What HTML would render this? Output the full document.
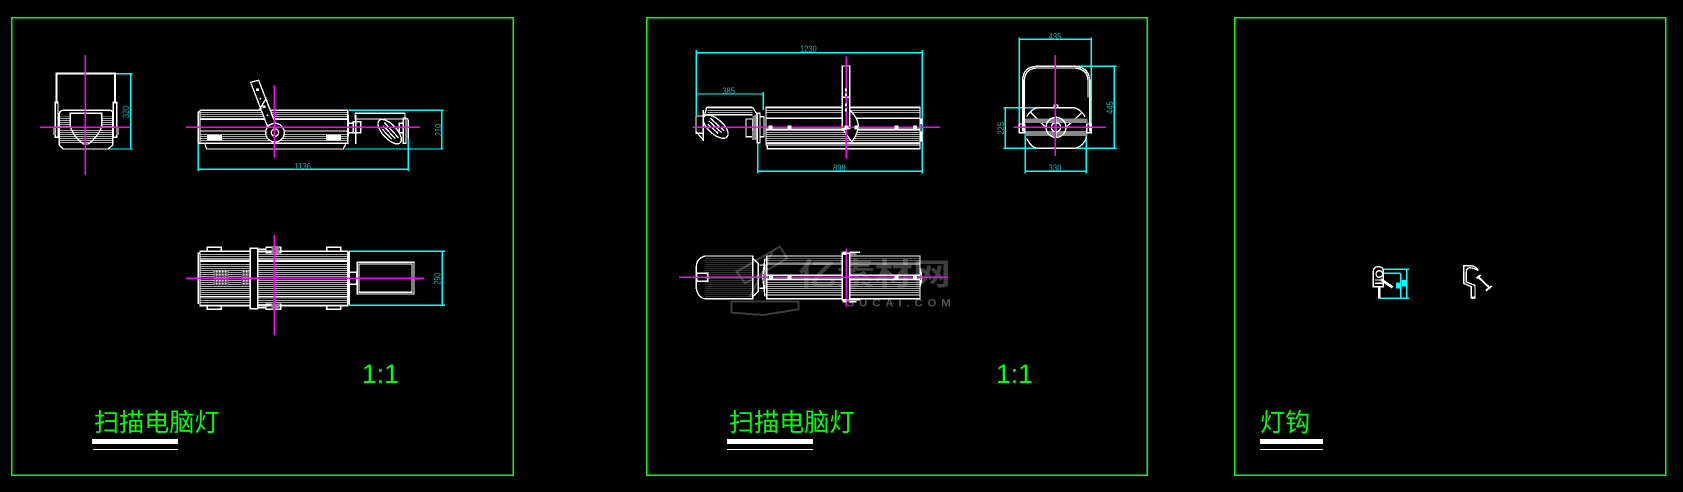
<!DOCTYPE html>
<html><head><meta charset="utf-8"><style>
html,body{margin:0;padding:0;background:#000;overflow:hidden}
svg{display:block}
svg *{shape-rendering:crispEdges}
text{font-family:"Liberation Sans","WenQuanYi Zen Hei","Noto Sans CJK SC",sans-serif}
.w{fill:none;stroke:#fff;stroke-width:4}
.wb{fill:#000;stroke:#fff;stroke-width:4}
.c{fill:none;stroke:#0ff;stroke-width:4}
.m{fill:none;stroke:#f0f;stroke-width:4}
.d{fill:#0bb;font-size:28px;text-anchor:middle}
.t{fill:#0f0;font-size:25.1px}
.r{fill:#0f0;font-size:26.5px}
</style></head><body>
<svg width="1683" height="492" viewBox="0 0 1683 492" xmlns="http://www.w3.org/2000/svg">
<defs>
<pattern id="h" width="6" height="6" patternUnits="userSpaceOnUse"><rect width="6" height="3" fill="#aaa"/></pattern>
<pattern id="k" width="9" height="9" patternUnits="userSpaceOnUse"><rect width="9" height="9" fill="#666"/><rect width="4" height="4" fill="#ddd"/><rect x="5" y="5" width="3" height="3" fill="#222"/></pattern>
</defs>
<rect width="1683" height="492" fill="#000"/>
<g fill="none" stroke="#0f0" stroke-width="1.5">
<rect x="11.5" y="17.5" width="501.5" height="457.5"/>
<rect x="646.5" y="17.5" width="500.5" height="457.5"/>
<rect x="1234.5" y="17.5" width="431" height="457.5"/>
</g>

<!-- watermark + lower-middle view -->
<g transform="translate(670,200) scale(.33333)">
<g fill="none" stroke="#3c3c3c" stroke-width="6">
<path d="M200,215 L330,140 L352,175 L225,250Z"/>
<path d="M185,305 H385 V328 L280,345 L185,338Z"/>
<path d="M240,290 L310,150"/>
</g>
<text x="385" y="255" font-size="92" font-weight="bold" fill="#3e3e3e" textLength="458" lengthAdjust="spacingAndGlyphs">亿素材网</text>
<text x="530" y="320" font-size="34" font-weight="bold" fill="#505050" textLength="312">SUCAI.COM</text>
<rect x="105" y="172" width="143" height="120" fill="url(#h)" opacity=".3"/>
<path class="w" d="M248,168 H105 Q80,175 79,200 V265 Q85,295 105,296 H248Z"/>
<rect class="w" x="80" y="220" width="33" height="24"/>
<path class="w" d="M248,175 L265,190 V275 L248,290 M268,195 H285 V265 H268 M285,175 L278,232 L285,290"/>
<rect x="292" y="242" width="456" height="40" fill="url(#h)"/>
<rect x="292" y="172" width="456" height="20" fill="url(#h)" opacity=".5"/>
<rect class="w" x="290" y="168" width="460" height="128"/>
<path class="w" d="M290,192 H750 M290,226 H750 M290,238 H750 M290,285 H750 M750,205 Q760,232 750,260"/>
<rect class="wb" x="517" y="160" width="22" height="140"/>
<path class="w" d="M539,157 H570 M539,162 H560 M539,300 H570 M539,305 H560"/>
<path class="m" d="M27,232 H832 M529,145 V320"/>
<g fill="#fff"><rect x="297" y="226" width="12" height="12"/><rect x="352" y="226" width="12" height="12"/><rect x="674" y="226" width="12" height="12"/><rect x="729" y="226" width="12" height="12"/><rect x="517" y="155" width="12" height="10"/><rect x="517" y="297" width="12" height="10"/></g>
</g>

<!-- panel 1 top -->
<g transform="translate(30,50) scale(.33333)">
<path class="c" d="M255,71 H308 M235,297 H308 M302,71 V297"/>
<text class="d" transform="translate(297,186) rotate(-90)" textLength="36" lengthAdjust="spacingAndGlyphs">320</text>
<rect x="90" y="200" width="31" height="34" fill="url(#h)"/><rect x="215" y="200" width="33" height="34" fill="url(#h)"/>
<rect x="90" y="240" width="156" height="42" fill="url(#h)"/>
<path d="M80,160 V71 H255 V160" fill="none" stroke="#fff" stroke-width="6"/>
<rect class="w" x="76" y="157" width="8" height="105"/><rect class="w" x="250" y="157" width="10" height="105"/>
<rect x="69" y="232" width="8" height="23" fill="#888"/><rect x="258" y="232" width="9" height="23" fill="#888"/>
<path class="w" d="M88,190 Q90,181 100,181 H240 Q248,181 248,190 V285 L235,297 H100 L88,285Z"/>
<path class="w" d="M121,232 V190 H215 V232 Q200,265 175,282 H160 Q135,265 121,232"/>

<path class="c" d="M957,181 H1240 M945,297 H1240 M1235,181 V297 M505,280 V363 M1135,260 V363 M505,358 H1135"/>
<text class="d" transform="translate(1234,240) rotate(-90)" textLength="36" lengthAdjust="spacingAndGlyphs">210</text>
<text class="d" x="818" y="358" textLength="50" lengthAdjust="spacingAndGlyphs">1136</text>
<rect x="512" y="186" width="440" height="19" fill="url(#h)"/><rect x="512" y="250" width="440" height="26" fill="url(#h)"/>
<rect class="w" x="510" y="181" width="443" height="99"/>
<path class="w" d="M510,208 H953 M510,243 H953 M505,185 V280 M505,185 H510 M505,280 H510 M525,283 L530,297 H940 L947,283"/>
<rect x="531" y="255" width="45" height="17" fill="#fff"/><rect x="888" y="255" width="45" height="17" fill="#fff"/>
<path class="wb" d="M662,97 L686,91 L735,218 L712,228Z"/>
<path class="w" d="M688,180 L708,146 L730,205"/>
<rect x="678" y="116" width="9" height="7" fill="#fff"/><rect x="698" y="167" width="9" height="7" fill="#fff"/><circle cx="691" cy="146" r="3" fill="#fff"/><circle cx="712" cy="196" r="3" fill="#fff"/>
<circle class="wb" cx="735" cy="248" r="28"/><circle class="w" cx="735" cy="248" r="11"/>
<path class="w" d="M955,195 V260 M955,220 H970 M955,248 H970 M977,195 V282 M975,190 H1125 V207 H975 V190 M1128,205 Q1135,205 1135,215 V265"/>
<rect class="w" x="970" y="215" width="22" height="33"/><rect class="w" x="1120" y="205" width="8" height="75"/><rect class="w" x="1108" y="220" width="12" height="28"/>
<g transform="rotate(47 1079 245)"><ellipse class="wb" cx="1079" cy="245" rx="46" ry="21"/><path class="w" d="M1048,238 H1110 M1053,247 H1105 M1058,256 H1100"/></g>
<path class="m" d="M166,15 V375 M30,232 H300 M468,232 H1170 M733,105 V323"/>
</g>

<!-- panel 1 bottom -->
<g transform="translate(180,220) scale(.33333)">
<path class="c" d="M507,94 H795 M507,256 H795 M787,94 V256"/>
<text class="d" transform="translate(782,176) rotate(-90)" textLength="36" lengthAdjust="spacingAndGlyphs">290</text>
<path class="w" d="M82,94 V82 H124 V94 M440,94 V82 H482 V94 M82,257 V268 H124 V257 M440,257 V268 H482 V257"/>
<rect x="62" y="100" width="440" height="18" fill="url(#h)"/><rect x="62" y="130" width="440" height="95" fill="url(#h)"/><rect x="62" y="235" width="440" height="18" fill="url(#h)"/>
<rect class="w" x="60" y="94" width="443" height="163"/>
<path class="w" d="M60,120 H503 M60,124 H503 M60,230 H503 M55,252 V100 H60 M503,97 H508 V252 H503"/>
<rect x="100" y="153" width="46" height="43" fill="url(#k)"/><rect x="184" y="153" width="26" height="43" fill="url(#k)"/>
<rect class="wb" x="211" y="85" width="22" height="181"/>
<path class="w" d="M233,88 H258 M233,96 H275 M233,255 H275 M233,263 H258"/>
<rect class="w" x="258" y="82" width="44" height="16"/><rect class="w" x="258" y="252" width="44" height="16"/>
<rect x="275" y="81" width="23" height="18" fill="#888"/><rect x="275" y="251" width="23" height="18" fill="#888"/>
<rect class="w" x="508" y="157" width="22" height="36"/>
<rect class="w" x="532" y="127" width="170" height="95"/><rect class="w" x="537" y="132" width="159" height="85"/>
<path class="m" d="M18,175 H732 M283,45 V345"/>
</g>

<!-- panel 2 side -->
<g transform="translate(680,30) scale(.33333)">
<path class="c" d="M49,60 V255 M727,60 V430 M49,68 H727 M49,192 H250 M250,186 V240 M233,424 H727 M233,340 V430"/>
<text class="d" x="385" y="66" textLength="50" lengthAdjust="spacingAndGlyphs">1230</text>
<text class="d" x="146" y="192" textLength="38" lengthAdjust="spacingAndGlyphs">385</text>
<text class="d" x="478" y="423" textLength="38" lengthAdjust="spacingAndGlyphs">898</text>
<rect x="260" y="236" width="458" height="14" fill="url(#h)"/><rect x="260" y="300" width="458" height="40" fill="url(#h)"/>
<rect x="82" y="236" width="135" height="14" fill="url(#h)"/>
<rect class="w" x="258" y="232" width="462" height="113"/>
<path class="w" d="M258,265 H720 M258,298 H720 M258,340 H720 M262,345 V356 H720 V345 M80,232 H218 M80,254 H218 M218,232 L232,255 M80,232 L72,262"/>
<rect class="wb" x="487" y="108" width="22" height="187"/>
<path class="w" d="M487,202 H509"/>
<path class="wb" d="M509,240 Q535,265 535,290 Q530,320 515,335 L490,300 L509,295Z"/>
<path class="w" d="M48,258 H70 V310 H48Z M70,240 V333 M48,305 L70,330"/>
<g transform="rotate(42 107 290)"><ellipse class="wb" cx="107" cy="290" rx="46" ry="22"/><path class="w" d="M78,282 H134 M80,291 H132 M85,300 H127"/></g>
<rect class="w" x="198" y="267" width="20" height="53"/>
<path d="M218,260 L232,250 V330 H216Z" fill="#888"/>
<rect class="w" x="232" y="250" width="8" height="88"/><rect class="w" x="240" y="260" width="12" height="60"/>
<path class="m" d="M37,292 H780 M499,80 V385"/>
<g fill="#fff"><rect x="266" y="287" width="12" height="11"/><rect x="322" y="287" width="12" height="11"/><rect x="493" y="287" width="12" height="11"/><rect x="524" y="287" width="12" height="11"/><rect x="644" y="287" width="12" height="11"/><rect x="699" y="287" width="12" height="11"/><rect x="718" y="265" width="9" height="17"/><rect x="718" y="305" width="9" height="30"/><rect x="495" y="175" width="6" height="10"/><rect x="495" y="190" width="6" height="8"/><rect x="495" y="220" width="6" height="8"/><rect x="495" y="236" width="6" height="8"/></g>
</g>

<!-- panel 2 front -->
<g transform="translate(980,20) scale(.33333)">
<path class="c" d="M118,52 V335 M334,52 V335 M118,58 H334 M285,139 H410 M70,385 H410 M403,139 V385 M70,263 H175 M76,263 V385 M136,340 V460 M319,340 V460 M136,454 H319"/>
<text class="d" x="225" y="58" textLength="38" lengthAdjust="spacingAndGlyphs">435</text>
<text class="d" transform="translate(399,263) rotate(-90)" textLength="38" lengthAdjust="spacingAndGlyphs">445</text>
<text class="d" transform="translate(72,325) rotate(-90)" textLength="38" lengthAdjust="spacingAndGlyphs">225</text>
<text class="d" x="225" y="453" textLength="38" lengthAdjust="spacingAndGlyphs">330</text>
<path class="w" d="M128,335 V180 Q130,140 170,139 H285 Q327,143 329,180 V335"/>
<path class="w" d="M133,335 V180 Q136,146 170,144 H285 Q322,148 324,180 V232"/>
<path class="w" d="M140,290 Q155,265 175,263 H280 Q300,265 315,290 M140,355 Q155,385 175,385 H285 Q310,380 320,350"/>
<path class="w" d="M150,275 L200,325 M305,278 L255,325 M222,263 V255 H233 V263"/>
<rect x="135" y="296" width="187" height="13" fill="#888"/><rect x="135" y="333" width="187" height="15" fill="#888"/>
<circle class="w" cx="228" cy="322" r="30"/><circle class="w" cx="228" cy="322" r="14"/>
<path class="w" d="M228,288 V350"/>
<rect class="w" x="118" y="312" width="16" height="26"/><rect class="w" x="320" y="312" width="14" height="26"/>
<path class="m" d="M226,105 V408 M100,322 H378"/>
</g>

<!-- hooks -->
<g transform="translate(1350,250) scale(.33333)">
<path class="c" d="M100,58 H177 M90,145 H177 M152,70 V145 M170,58 V145 M100,70 H152"/>
<rect x="138" y="97" width="14" height="18" fill="#0ff"/><rect x="156" y="90" width="14" height="20" fill="#0ff"/>
<path class="w" d="M70,110 V62 Q72,50 85,50 Q100,50 100,65 V110 Z M75,90 H100 M75,100 H100"/>
<circle class="w" cx="88" cy="72" r="10"/>
<path d="M88,110 V145" stroke="#fff" stroke-width="8" fill="none"/>
<path d="M92,88 L128,112" stroke="#fff" stroke-width="8" fill="none"/>
<path class="w" d="M385,60 Q375,47 360,47 H341 V100 L364,110 V145 M385,62 Q370,52 355,54 Q349,56 349,68 V96 L375,106 V145"/>
<rect x="364" y="140" width="10" height="7" fill="#fff"/>
<path d="M384,80 L420,115" stroke="#fff" stroke-width="6" fill="none"/>
<path d="M380,85 L392,75 M408,122 L425,108" stroke="#fff" stroke-width="6" fill="none"/>
</g>

<!-- titles -->
<text class="r" x="362" y="383">1:1</text>
<text class="r" x="996" y="383">1:1</text>
<text class="t" x="94" y="431">扫描电脑灯</text>
<text class="t" x="729" y="431">扫描电脑灯</text>
<text class="t" x="1260" y="431">灯钩</text>
<g fill="#fff">
<rect x="92" y="439" width="86" height="5"/><rect x="93" y="449" width="85" height="1"/>
<rect x="727" y="439" width="86" height="5"/><rect x="727" y="449" width="86" height="1"/>
<rect x="1260" y="439" width="63" height="5"/><rect x="1260" y="449" width="63" height="1"/>
</g>
</svg>
</body></html>
